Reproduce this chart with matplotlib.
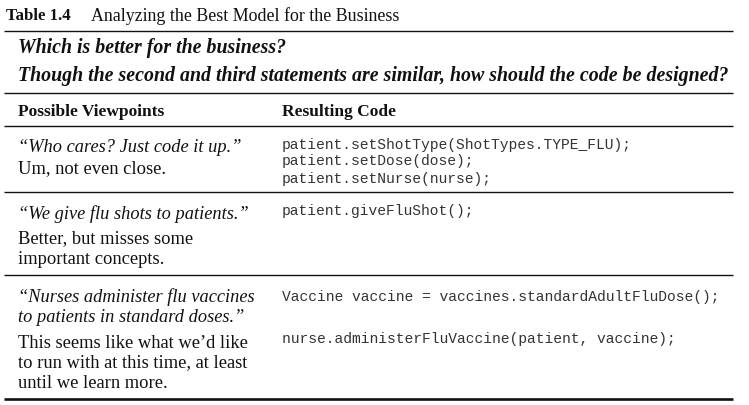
import matplotlib
matplotlib.use("Agg")
import matplotlib.pyplot as plt
import numpy as np

# ---- table content ----
title_label = "Table 1.4"
title_text = "Analyzing the Best Model for the Business"
questions = ["Which is better for the business?",
             "Though the second and third statements are similar, how should the code be designed?"]
headers = ["Possible Viewpoints", "Resulting Code"]
quotes = [["\u201cWho cares? Just code it up.\u201d"],
          ["\u201cWe give flu shots to patients.\u201d"],
          ["\u201cNurses administer flu vaccines", "to patients in standard doses.\u201d"]]
comments = [["Um, not even close."],
            ["Better, but misses some", "important concepts."],
            ["This seems like what we\u2019d like", "to run with at this time, at least", "until we learn more."]]
code_lines = [["patient.setShotType(ShotTypes.TYPE_FLU);", "patient.setDose(dose);", "patient.setNurse(nurse);"],
              ["patient.giveFluShot();"],
              ["Vaccine vaccine = vaccines.standardAdultFluDose();", "", "nurse.administerFluVaccine(patient, vaccine);"]]

W, H = 749, 405
fig = plt.figure(figsize=(W / 100, H / 100), dpi=100)
ax = fig.add_axes([0, 0, 1, 1])
ax.set_xlim(0, W)
ax.set_ylim(H, 0)
ax.axis("off")
fig.canvas.draw()
renderer = fig.canvas.get_renderer()

SERIF = ["Liberation Serif", "DejaVu Serif"]
MONO = ["Liberation Mono", "DejaVu Sans Mono"]


def fit_size(text, target, **kw):
    t = ax.text(0, 0, text, fontsize=10, **kw)
    w = t.get_window_extent(renderer).width
    t.remove()
    return 10 * target / w


X0, XC = 18, 282

s_title_b = fit_size(title_label, 65, family=SERIF, weight="bold")
s_title = fit_size(title_text, 308, family=SERIF)
s_q = fit_size(questions[1], 709, family=SERIF, weight="bold", style="italic")
s_head = fit_size(headers[0], 146, family=SERIF, weight="bold")
it_fit = [(quotes[0][0], 233), (quotes[1][0], 247), (quotes[2][0], 263), (quotes[2][1], 248)]
s_it = np.mean([fit_size(t, e - X0, family=SERIF, style="italic") for t, e in it_fit])
reg_fit = [(comments[0][0], 156), (comments[1][0], 188), (comments[1][1], 163),
           (comments[2][0], 254), (comments[2][1], 264)]
s_reg = np.mean([fit_size(t, e - X0, family=SERIF) for t, e in reg_fit])
s_code = fit_size(code_lines[2][0], 440, family=MONO)

INK = "#111111"
kw = dict(va="center_baseline", ha="left", color=INK)

# title
ax.text(6, 14, title_label, fontsize=s_title_b, family=SERIF, weight="bold", **kw)
ax.text(91, 14, title_text, fontsize=s_title, family=SERIF, **kw)

# rules
LX0, LX1 = 4, 733
for y, lw in [(31, 1.0), (93, 1.0), (126, 1.0), (192, 1.0), (275, 1.0), (399, 1.9)]:
    ax.plot([LX0, LX1], [y, y], color=INK, lw=lw, solid_capstyle="butt")

# questions
for y, q in zip([46, 73], questions):
    ax.text(X0, y, q, fontsize=s_q, family=SERIF, weight="bold", style="italic", **kw)

# headers
ax.text(X0, 110, headers[0], fontsize=s_head, family=SERIF, weight="bold", **kw)
ax.text(XC, 110, headers[1], fontsize=s_head, family=SERIF, weight="bold", **kw)

# rows
quote_y = [[146], [212], [295, 316]]
comment_y = [[167], [237, 258], [342, 361, 382]]
code_y = [[143, 160, 177], [210], [295, 316, 337]]
for r in range(3):
    for y, s in zip(quote_y[r], quotes[r]):
        ax.text(X0, y, s, fontsize=s_it, family=SERIF, style="italic", **kw)
    for y, s in zip(comment_y[r], comments[r]):
        ax.text(X0, y, s, fontsize=s_reg, family=SERIF, **kw)
    for y, s in zip(code_y[r], code_lines[r]):
        if s:
            ax.text(XC, y, s, fontsize=s_code, family=MONO,
                    va="center_baseline", ha="left", color="#333333")

fig.savefig("out.png", dpi=100, facecolor="white")
